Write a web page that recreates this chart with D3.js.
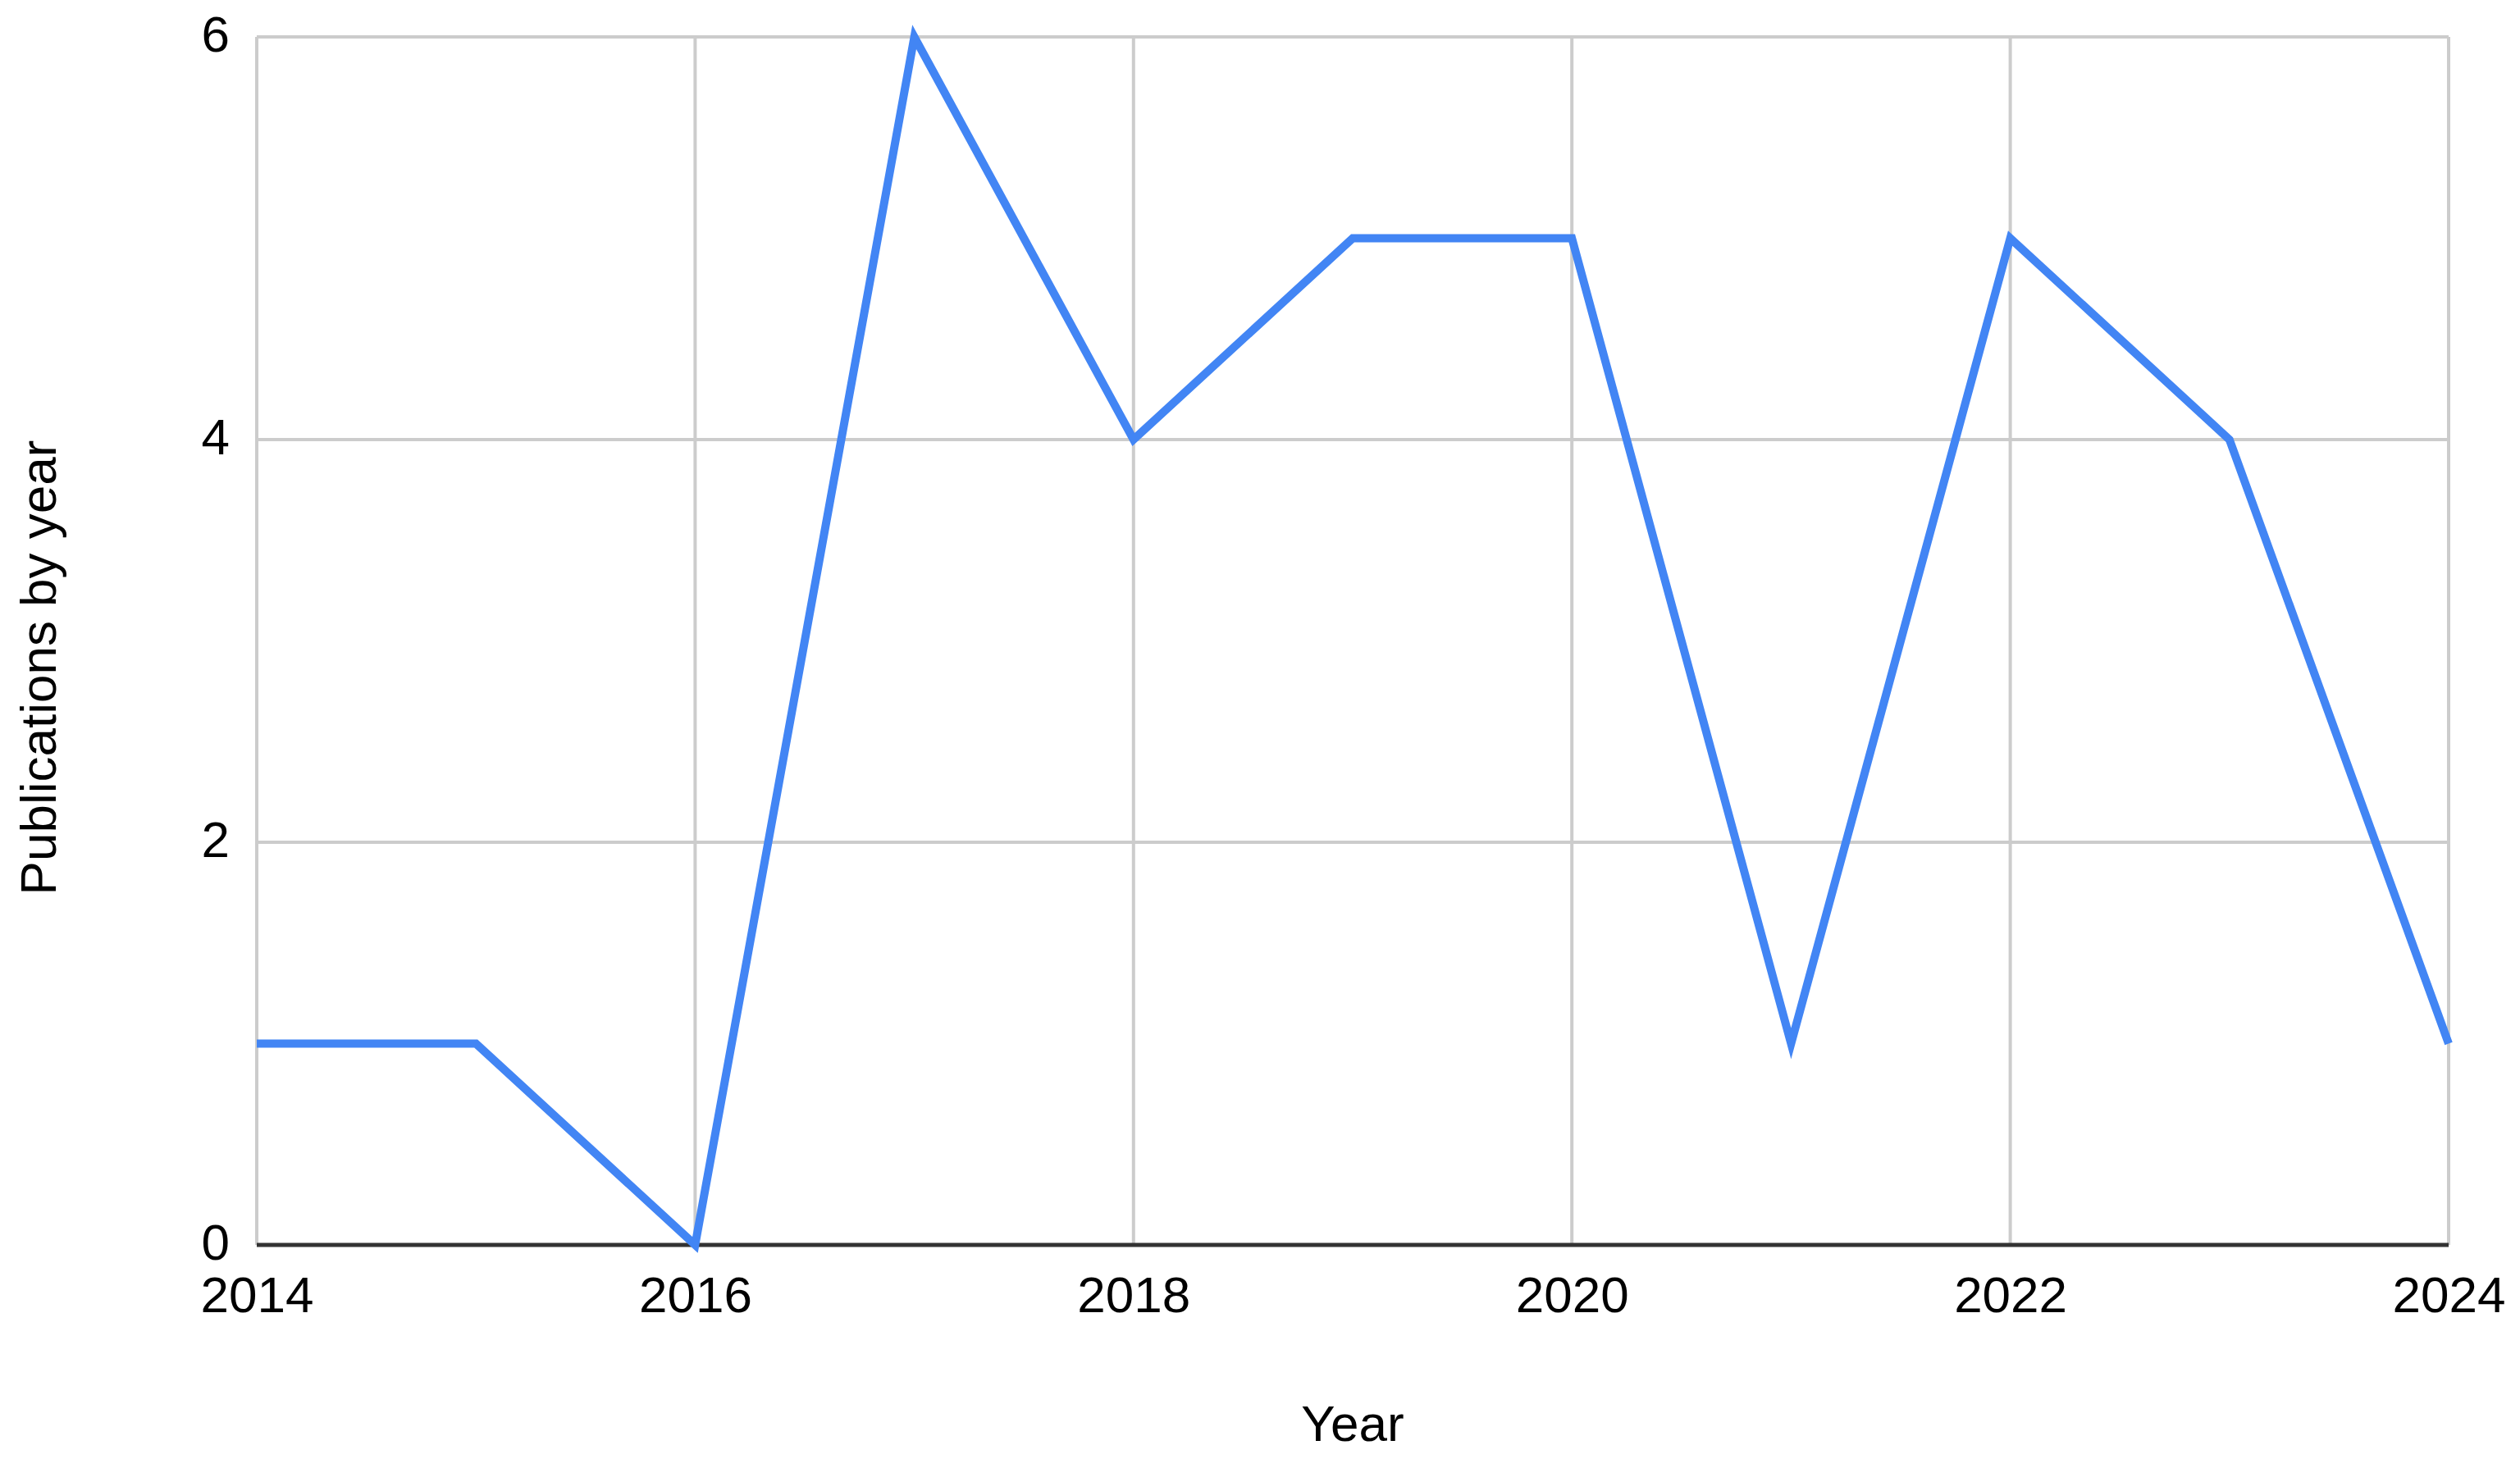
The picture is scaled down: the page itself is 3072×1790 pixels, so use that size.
<!DOCTYPE html>
<html>
<head>
<meta charset="utf-8">
<script src="https://cdn.jsdelivr.net/npm/d3@7"></script>
<style>
  html, body { margin: 0; padding: 0; background: #fff; }
  text { font-family: "Liberation Sans", Arial, sans-serif; fill: #000; }
</style>
</head>
<body>
<svg id="chart" width="3072" height="1790"></svg>
<script>
// data
const years = [2014, 2015, 2016, 2017, 2018, 2019, 2020, 2021, 2022, 2023, 2024];
const publications = [1, 1, 0, 6, 4, 5, 5, 1, 5, 4, 1];
const xTicks = [2014, 2016, 2018, 2020, 2022, 2024];
const yTicks = [0, 2, 4, 6];

const svg = d3.select("#chart");
const margin = {top: 45, right: 87, bottom: 272, left: 313};
const width = 3072 - margin.left - margin.right,
  height = 1790 - margin.top - margin.bottom;
const fontSize = "62px";

const g = svg.append("g")
  .attr("transform", `translate(${margin.left},${margin.top})`);

const x = d3.scaleLinear().domain([2014, 2024]).range([0, width]);
const y = d3.scaleLinear().domain([0, 6]).range([height, 0]);

// gridlines
g.append("g")
  .selectAll("line")
  .data(yTicks.filter(d => d > 0))
  .enter()
  .append("line")
    .attr("x1", 0).attr("x2", width)
    .attr("y1", d => y(d)).attr("y2", d => y(d))
    .style("stroke", "#cccccc")
    .style("stroke-width", 4);

g.append("g")
  .selectAll("line")
  .data(xTicks)
  .enter()
  .append("line")
    .attr("x1", d => x(d)).attr("x2", d => x(d))
    .attr("y1", 0).attr("y2", height)
    .style("stroke", "#cccccc")
    .style("stroke-width", 4);

// baseline
g.append("line")
  .attr("x1", 0).attr("x2", width)
  .attr("y1", y(0)).attr("y2", y(0))
  .style("stroke", "#333333")
  .style("stroke-width", 5);

// axis labels
const xAxis = g.append("g")
  .attr("transform", `translate(0,${height})`)
  .call(d3.axisBottom(x).tickValues(xTicks).tickFormat(d3.format("d")).tickSize(0).tickPadding(38));
xAxis.select(".domain").remove();
xAxis.selectAll("text")
  .style("font-size", fontSize)
  .style("font-family", "Liberation Sans, Arial, sans-serif")
  .attr("fill", "#000");

const yAxis = g.append("g")
  .call(d3.axisLeft(y).tickValues(yTicks).tickFormat(d3.format("d")).tickSize(0).tickPadding(33));
yAxis.select(".domain").remove();
yAxis.selectAll("text")
  .attr("dy", "0.28em")
  .style("font-size", fontSize)
  .style("font-family", "Liberation Sans, Arial, sans-serif")
  .attr("fill", "#000");

// line
const line = d3.line()
  .x((d, i) => x(years[i]))
  .y(d => y(d));

g.append("path")
  .datum(publications)
  .attr("d", line)
  .style("fill", "none")
  .style("stroke", "#4285f4")
  .style("stroke-width", 10)
  .style("stroke-linejoin", "miter");

// titles
svg.append("text")
  .attr("x", margin.left + width / 2)
  .attr("y", 1757)
  .attr("text-anchor", "middle")
  .style("font-size", fontSize)
  .text("Year");

svg.append("text")
  .attr("transform", "translate(68,814) rotate(-90)")
  .attr("text-anchor", "middle")
  .style("font-size", fontSize)
  .text("Publications by year");
</script>
</body>
</html>
